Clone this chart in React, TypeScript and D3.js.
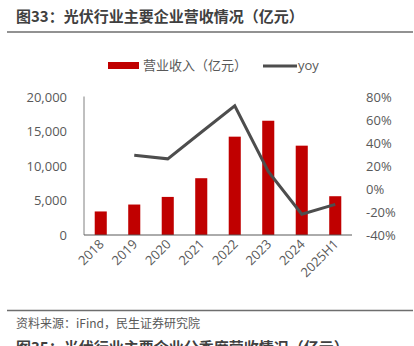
import React from "react";
import * as d3 from "d3";

const categories = ["2018", "2019", "2020", "2021", "2022", "2023", "2024", "2025H1"];
const revenue = [3400, 4400, 5500, 8200, 14200, 16500, 12900, 5600];
const yoy: (number | null)[] = [null, 29, 26, 49, 72, 15, -22, -13.5];
const leftTicks = [0, 5000, 10000, 15000, 20000];
const rightTicks = [-40, -20, 0, 20, 40, 60, 80];

const W = 414, H = 346;
const plot = { left: 84, right: 352, top: 96.5, bottom: 235 };
const FONT = "'Open Sans', 'Noto Sans CJK SC', sans-serif";
const CJK = "'Noto Sans CJK SC', 'Open Sans', sans-serif";
const TXT = "#595959";

export default function App() {
  const x = d3.scaleBand<string>().domain(categories).range([plot.left, plot.right]).paddingInner(0.64).paddingOuter(0.32);
  const yL = d3.scaleLinear().domain([0, 20000]).range([plot.bottom, plot.top]);
  const yR = d3.scaleLinear().domain([-40, 80]).range([plot.bottom, plot.top]);
  const fmt = d3.format(",");
  const pts = categories.map((c, i) => ({ c, v: yoy[i] })).filter(d => d.v !== null) as { c: string; v: number }[];
  const line = d3.line<{ c: string; v: number }>().x(d => (x(d.c) as number) + x.bandwidth() / 2).y(d => yR(d.v));

  return (
    <svg width={W} height={H} style={{ position: "absolute", left: 0, top: 0, background: "#fff" }}>
      <text x={16} y={22} fontFamily={CJK} fontWeight="bold" fontSize={15} fill="#404040">图33：光伏行业主要企业营收情况（亿元）</text>
      <line x1={7} x2={413} y1={32} y2={32} stroke="#6e6e6e" strokeWidth={1.5} />

      {/* legend */}
      <rect x={108} y={62} width={31} height={7} fill="#c00000" />
      <text x={143} y={70} fontFamily={CJK} fontSize={13} fill={TXT}>营业收入（亿元）</text>
      <line x1={263} x2={297} y1={66} y2={66} stroke="#4d4d4d" strokeWidth={3} />
      <text x={298} y={70} fontFamily={FONT} fontSize={13} fill={TXT}>yoy</text>

      {/* bars */}
      {categories.map((c, i) => (
        <rect key={c} x={x(c)} y={yL(revenue[i])} width={x.bandwidth()} height={plot.bottom - yL(revenue[i])} fill="#c00000" />
      ))}

      {/* axes */}
      <line x1={plot.left} x2={plot.left} y1={plot.top} y2={plot.bottom} stroke="#808080" strokeWidth={1} />
      <line x1={plot.left} x2={plot.right} y1={plot.bottom} y2={plot.bottom} stroke="#595959" strokeWidth={1} />

      {leftTicks.map(t => (
        <text key={t} x={67} y={yL(t) + 5} textAnchor="end" fontFamily={FONT} fontSize={13} fill={TXT}>{fmt(t)}</text>
      ))}
      {rightTicks.map(t => (
        <text key={t} x={366} y={yR(t) + 5} fontFamily={FONT} fontSize={13} fill={TXT}>{t}%</text>
      ))}
      {categories.map(c => {
        const cx = (x(c) as number) + x.bandwidth() / 2;
        return (
          <text key={c} transform={`translate(${cx + 4},${245}) rotate(-45)`} textAnchor="end" fontFamily={FONT} fontSize={13} fill={TXT}>{c}</text>
        );
      })}

      {/* yoy line */}
      <path d={line(pts) || ""} fill="none" stroke="#4d4d4d" strokeWidth={3} />

      <line x1={7} x2={413} y1={310.5} y2={310.5} stroke="#6e6e6e" strokeWidth={1.5} />
      <text x={16} y={328} fontFamily={CJK} fontSize={12} fill={TXT}>资料来源：iFind，民生证券研究院</text>
      <text x={16} y={353} fontFamily={CJK} fontWeight="bold" fontSize={15} fill="#404040">图35：光伏行业主要企业分季度营收情况（亿元）</text>
    </svg>
  );
}
